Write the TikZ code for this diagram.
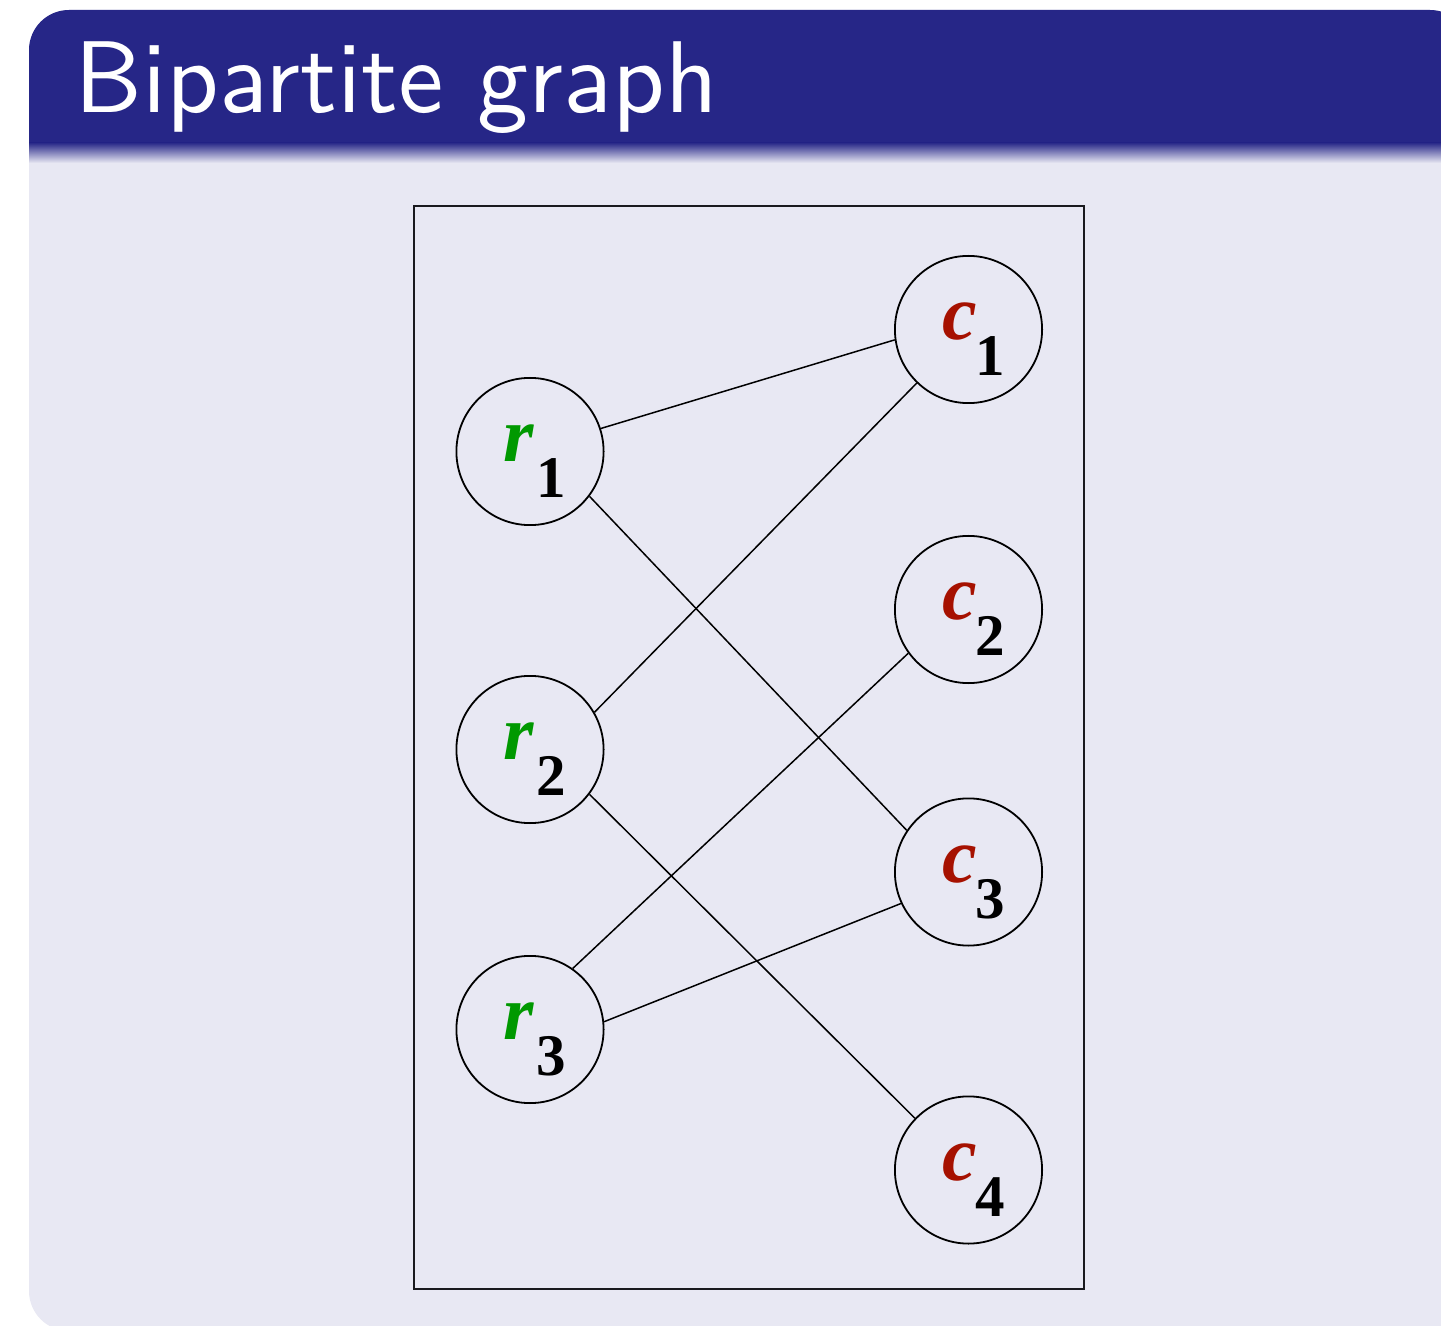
\documentclass[tikz,border=0pt]{standalone}
\usepackage{fontspec}
\newfontfamily\labelfont{Liberation Serif}
\newfontfamily\titlefont{lmsans10-regular.otf}
\definecolor{titlebg}{RGB}{38,38,135}
\definecolor{bodybg}{RGB}{232,232,243}
\definecolor{rgreen}{RGB}{0,153,0}
\definecolor{cred}{RGB}{166,17,0}
\definecolor{framecol}{RGB}{25,25,30}

% vertex label: bold italic letter with a bold numeric subscript
\newcommand\vlab[4]{%
  \kern5pt{\labelfont\bfseries\itshape\fontsize{39pt}{40pt}\selectfont\color{#1}#2}%
  \kern#3\raisebox{-18pt}{\labelfont\bfseries\fontsize{29.5pt}{30pt}\selectfont #4}}
\newcommand\rl[1]{\vlab{rgreen}{r}{1.5pt}{#1}}
\newcommand\cl[1]{\vlab{cred}{c}{-1pt}{#1}}

\tikzset{
  vtx/.style={circle, draw=black, line width=0.9pt, minimum size=73.6pt,
              inner sep=0pt, text height=10pt, text depth=0pt},
  edge/.style={draw=black, line width=0.75pt},
  titletext/.style={anchor=base west, inner sep=0pt, text=white,
                    font=\titlefont\fontsize{51pt}{60pt}\selectfont}
}

\begin{document}
\begin{tikzpicture}[x=0.5pt, y=-0.5pt]
  \useasboundingbox (0,0) rectangle (1441,1326);

  % block body and title bar
  \fill[bodybg, rounded corners=20pt] (29,10) rectangle (1470,1331);
  \fill[titlebg] (29,143) [rounded corners=20pt] -- (29,10) -- (1470,10)
        [sharp corners] -- (1470,143) -- cycle;
  \shade[top color=titlebg, bottom color=bodybg] (29,142.5) rectangle (1470,163);
  \node[titletext] (title) at (74,113) {Bipartite graph};

  % frame around the graph
  \draw[framecol, line width=1pt] (414,206) rectangle (1084,1289);

  % row vertices
  \node[vtx] (r1) at (530,451.5)  {\rl{1}};
  \node[vtx] (r2) at (530,749.5)  {\rl{2}};
  \node[vtx] (r3) at (530,1029.5) {\rl{3}};

  % column vertices
  \node[vtx] (c1) at (968.5,329.5) {\cl{1}};
  \node[vtx] (c2) at (968.5,609.5) {\cl{2}};
  \node[vtx] (c3) at (968.5,872)   {\cl{3}};
  \node[vtx] (c4) at (968.5,1170)  {\cl{4}};

  % edges
  \draw[edge] (r1.18)  -- (c1.188);
  \draw[edge] (r1.-37) -- (c3.146);
  \draw[edge] (r2.30)  -- (c1.226);
  \draw[edge] (r2.-37) -- (c4.136);
  \draw[edge] (r3.55)  -- (c2.216);
  \draw[edge] (r3.6)   -- (c3.205);
\end{tikzpicture}
\end{document}
